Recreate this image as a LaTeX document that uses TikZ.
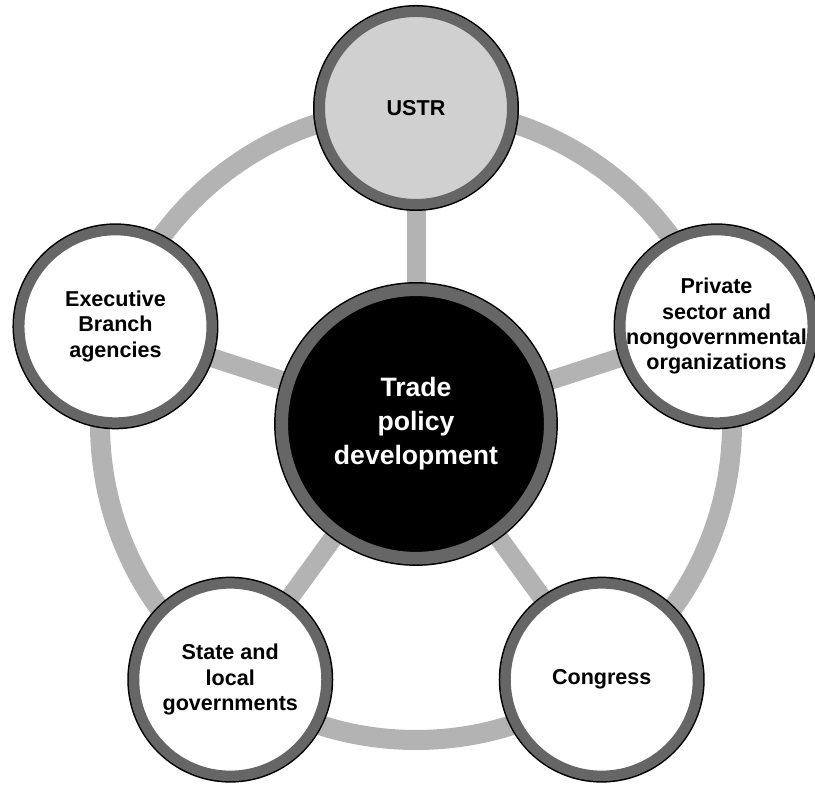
\documentclass[tikz,border=0pt]{standalone}
\usepackage{fontspec}
\setmainfont{Liberation Sans}
\usetikzlibrary{calc, backgrounds}

\definecolor{rimgray}{HTML}{666666}
\definecolor{linkgray}{HTML}{B3B3B3}
\definecolor{ustrgray}{HTML}{D0D0D0}

\begin{document}
\begin{tikzpicture}[x=0.3mm, y=0.3mm]
    \tikzstyle{hubnode} = [circle, minimum size=80.5mm, inner sep=0pt, fill=black, draw=rimgray, line width=3.75mm, preaction={draw=black, line width=4.65mm}, text=white, align=center, font=\fontsize{22.7}{29}\selectfont\bfseries]
    \tikzstyle{member} = [circle, minimum size=57.75mm, inner sep=-8pt, fill=white, draw=rimgray, line width=3.15mm, preaction={draw=black, line width=4.05mm}, align=center, font=\fontsize{18.4}{21.6}\selectfont\bfseries]
    \tikzstyle{spoke} = [draw=linkgray, line width=5.7mm]
    \tikzstyle{ringline} = [draw=linkgray, line width=6mm]

    \useasboundingbox (0,0) rectangle (815,785);

    \node (hub) [hubnode] at (416,361) {Trade\\policy\\development};
    \node (ustr) [member, fill=ustrgray] at ($(hub)+(90:316)$) {USTR};
    \node (private) [member] at ($(hub)+(18:316)$) {Private\\sector and\\nongovernmental\\organizations};
    \node (congress) [member] at ($(hub)+(-54:316)$) {Congress};
    \node (states) [member] at ($(hub)+(-126:316)$) {State and\\local\\governments};
    \node (exec) [member] at ($(hub)+(162:316)$) {Executive\\Branch\\agencies};

    \begin{scope}[on background layer]
        \draw [ringline] (hub.center) circle (316);
        \draw [spoke] (hub.center) -- (ustr.center);
        \draw [spoke] (hub.center) -- (private.center);
        \draw [spoke] (hub.center) -- (congress.center);
        \draw [spoke] (hub.center) -- (states.center);
        \draw [spoke] (hub.center) -- (exec.center);
    \end{scope}
\end{tikzpicture}
\end{document}
